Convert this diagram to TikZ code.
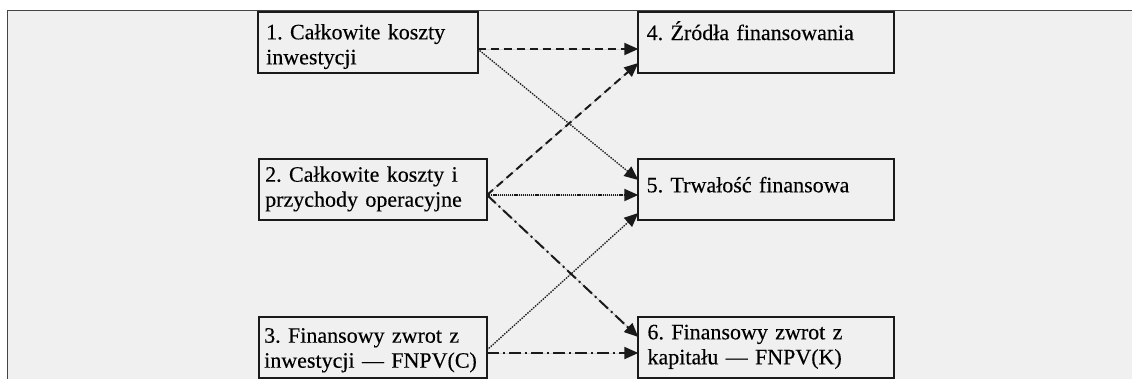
\documentclass[tikz,border=0pt]{standalone}
\usepackage{fontspec}
\setmainfont{Liberation Serif}
\newfontfamily\lblfont{Liberation Serif}[FakeBold=0.3]
\usetikzlibrary{arrows.meta}
\definecolor{bg}{HTML}{F0F0F0}
\definecolor{ink}{HTML}{1A1A1A}
\definecolor{framec}{HTML}{444444}
\tikzset{
  box/.style={draw=ink, line width=2pt, fill=bg, minimum height=61pt,
    outer sep=0pt, inner sep=0pt},
  txt/.style={anchor=base west, inner sep=0pt, text width=232pt, align=left,
    font=\lblfont\frenchspacing\fontsize{22}{25}\selectfont, text=black},
  conn/.style={-{Triangle[length=14pt,width=12pt]}, draw=ink, fill=ink},
  dasharr/.style={conn, line width=2pt, dash pattern=on 8pt off 5pt},
  dotarr/.style={conn, line width=1.4pt, dash pattern=on 1.2pt off 1.4pt},
  densedot/.style={conn, line width=2pt, dash pattern=on 1.2pt off 0.9pt},
  dashdotarr/.style={conn, line width=2pt, dash pattern=on 12pt off 4pt on 2pt off 4pt},
}
\begin{document}
\begin{tikzpicture}[x=1pt, y=-1pt]
\useasboundingbox (0,0) rectangle (1132,378);
\clip (0,0) rectangle (1132,378);
\fill[white] (0,0) rectangle (1132,378);
% panel
\draw[framec, line width=1.5pt, fill=bg] (7.5,10.5) rectangle (1150,400);

% boxes
\node[box, minimum width=219.4pt] (b1) at (368,42.8) {};
\node[box, minimum width=228pt]   (b2) at (373,189.4) {};
\node[box, minimum width=228pt]   (b3) at (373,347.2) {};
\node[box, minimum width=256pt]   (b4) at (766.3,42.8) {};
\node[box, minimum width=256pt]   (b5) at (766.3,189.4) {};
\node[box, minimum width=256pt]   (b6) at (766.3,347.2) {};

% labels
\node[txt] (t1) at (266,39.3)  {1. Całkowite koszty\\inwestycji};
\node[txt] (t2) at (265,181.7) {2. Całkowite koszty i\\przychody operacyjne};
\node[txt] (t3) at (264,342.7) {3. Finansowy zwrot z\\inwestycji — FNPV(C)};
\node[txt] (t4) at (646.5,40)  {4. Źródła finansowania};
\node[txt] (t5) at (646.5,192.3) {5. Trwałość finansowa};
\node[txt] (t6) at (647.3,339.3) {6. Finansowy zwrot z\\kapitału — FNPV(K)};

% connectors
\draw[dasharr]    (b1.east |- 0,49)  -- (b4.west |- 0,49);
\draw[dotarr]     (b1.east |- 0,49)  -- (b5.west |- 0,180);
\draw[dasharr]    (b2.east |- 0,195) -- (b4.west |- 0,63);
\draw[densedot]   (b2.east |- 0,195) -- (b5.west |- 0,195);
\draw[dashdotarr] (b2.east |- 0,195) -- (b6.west |- 0,337);
\draw[dotarr]     (b3.east |- 0,350) -- (b5.west |- 0,213);
\draw[dashdotarr] (b3.east |- 0,353) -- (b6.west |- 0,353);
\end{tikzpicture}
\end{document}
